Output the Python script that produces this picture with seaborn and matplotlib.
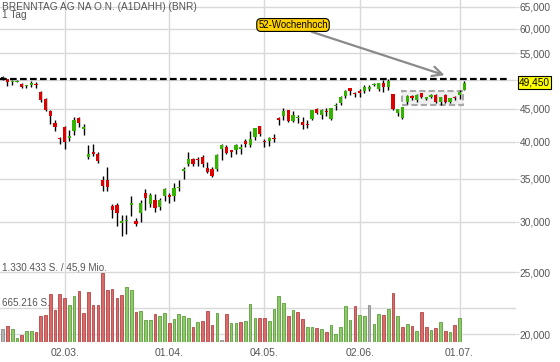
import matplotlib
matplotlib.use("Agg")
import matplotlib.pyplot as plt
import matplotlib.ticker as mticker
from matplotlib.patches import Rectangle
import seaborn as sns

sns.set_style("white")
plt.rcParams['font.family'] = ['Liberation Sans', 'DejaVu Sans']

# daily candles, 12.02. - 02.07.
opens = [50.3, 50.1, 49.5, 49.6, 49.3, 48.9, 49.0, 49.2, 47.9, 46.6,
         44.7, 42.7, 40.5, 42.2, 40.5, 41.5, 43.5, 41.8, 37.9, 38.6,
         38.3, 34.9, 34.9, 31.7, 31.8, 29.9, 30.1, 31.9, 30.1, 30.9,
         33.3, 32.0, 32.4, 31.6, 32.9, 33.0, 32.9, 33.8, 36.0, 36.9,
         37.6, 37.5, 37.9, 36.4, 36.2, 36.2, 38.9, 39.2, 38.8, 38.8,
         39.0, 40.1, 39.5, 40.7, 42.3, 40.1, 40.1, 40.5, 43.4, 43.9,
         44.8, 43.1, 43.6, 43.0, 42.6, 43.4, 45.0, 44.1, 44.6, 43.4,
         45.5, 46.0, 47.2, 48.5, 47.6, 48.0, 48.0, 48.3, 49.0, 48.3,
         49.4, 48.7, 47.5, 44.3, 43.6, 46.2, 47.1, 46.5, 47.6, 46.7,
         47.0, 47.3, 46.1, 47.3, 46.1, 46.95, 47.3, 48.2]
highs = [50.6, 50.2, 49.9, 49.9, 49.4, 49.1, 49.7, 49.6, 48.0, 46.8,
         44.8, 43.2, 40.7, 42.3, 41.7, 43.7, 43.7, 42.6, 39.5, 39.7,
         38.6, 35.4, 36.5, 32.0, 32.1, 30.7, 30.7, 32.9, 30.4, 32.4,
         33.7, 33.2, 33.1, 32.6, 33.9, 33.3, 34.5, 34.9, 36.5, 38.5,
         37.7, 37.9, 38.1, 37.2, 36.5, 38.2, 39.6, 39.5, 38.8, 39.7,
         39.7, 40.4, 41.5, 42.0, 42.3, 40.4, 40.7, 41.1, 43.7, 45.1,
         44.8, 44.6, 44.0, 43.7, 43.3, 44.9, 45.1, 45.0, 45.1, 45.2,
         45.9, 47.2, 48.2, 48.5, 47.9, 48.4, 49.0, 49.1, 49.4, 49.4,
         49.9, 50.06, 47.5, 45.0, 45.3, 47.3, 47.3, 47.4, 47.7, 47.0,
         47.5, 47.4, 46.9, 47.5, 46.8, 47.1, 48.2, 49.7]
lows = [50.0, 48.9, 49.1, 49.5, 48.6, 48.5, 48.7, 48.5, 46.1, 44.7,
        42.6, 41.5, 39.6, 39.0, 40.1, 41.0, 42.2, 41.0, 37.6, 38.0,
        37.1, 33.5, 33.5, 30.4, 29.5, 28.5, 28.7, 30.6, 29.5, 30.0,
        31.3, 31.6, 31.1, 31.3, 32.3, 32.1, 32.3, 33.5, 35.0, 36.7,
        36.6, 36.7, 36.5, 35.7, 35.2, 36.0, 37.4, 38.2, 37.9, 38.2,
        38.3, 39.2, 39.2, 40.3, 40.8, 39.2, 39.4, 40.0, 42.4, 43.3,
        43.0, 42.9, 42.8, 41.8, 42.0, 43.3, 44.2, 43.4, 43.9, 43.3,
        44.9, 45.7, 46.8, 47.3, 47.0, 47.0, 47.6, 48.0, 48.8, 48.0,
        47.9, 48.1, 44.9, 43.9, 43.4, 45.8, 46.5, 46.2, 46.8, 46.4,
        46.8, 46.0, 45.7, 46.0, 46.0, 46.5, 46.7, 48.1]
closes = [50.3, 49.5, 49.8, 49.8, 48.7, 49.0, 49.4, 49.1, 46.5, 44.9,
          43.8, 42.2, 40.4, 40.0, 40.8, 43.2, 42.7, 42.2, 38.2, 38.2,
          37.3, 34.1, 34.0, 31.3, 30.9, 30.0, 30.2, 32.1, 29.7, 32.1,
          32.7, 33.0, 31.5, 32.4, 33.7, 32.8, 33.9, 33.9, 36.2, 37.6,
          36.9, 37.4, 36.9, 35.9, 35.3, 38.1, 39.5, 38.4, 38.5, 39.5,
          39.3, 39.6, 40.4, 42.0, 41.1, 39.9, 40.5, 40.4, 43.3, 44.6,
          43.1, 44.0, 43.7, 42.4, 42.5, 44.8, 44.4, 44.8, 44.5, 45.1,
          45.6, 47.0, 48.0, 48.0, 47.4, 47.6, 48.7, 48.7, 49.1, 49.4,
          48.7, 49.7, 45.0, 45.0, 45.3, 47.2, 46.8, 47.3, 47.0, 46.8,
          47.3, 46.1, 46.9, 46.2, 46.8, 46.85, 47.9, 49.45]

# volume in shares, direction vs. previous close (R down, G up, n unchanged)
volume = [259000, 305000, 259000, 84000, 143000, 207000, 214000, 201000, 499000, 519000,
          921000, 616000, 934000, 843000, 726000, 882000, 985000, 571000, 960000, 726000,
          726000, 1330433, 998000, 1024000, 856000, 908000, 1057000, 1005000, 577000, 609000,
          428000, 421000, 538000, 499000, 564000, 363000, 454000, 538000, 499000, 467000,
          298000, 395000, 402000, 596000, 324000, 571000, 32000, 551000, 363000, 363000,
          382000, 415000, 733000, 467000, 473000, 460000, 402000, 648000, 888000, 746000,
          499000, 616000, 583000, 441000, 285000, 285000, 266000, 259000, 201000, 331000,
          149000, 285000, 694000, 434000, 694000, 519000, 506000, 726000, 350000, 545000,
          532000, 635000, 953000, 499000, 298000, 357000, 305000, 207000, 590000, 298000,
          227000, 279000, 389000, 220000, 201000, 337000, 473000]
vol_dir = ("nRGGRGGRRR" "RRRRGGRRRR" "RRRRRRGGRG" "GGRGGRGGGG" "RGRRRGnRGG"
           "RGGGRRGGGG" "RGRRGGRGRG" "GGGGRGGnGG" "RGRGRGRGRR" "GRGRGRG")

date_pos = [13, 35, 55, 75, 96]
date_labels = ["02.03.", "01.04.", "04.05.", "02.06.", "01.07."]
price_ticks = [20, 25, 30, 35, 40, 45, 50, 55, 60, 65]
high_52 = 50.06
last_price = 49.45
vol_max = 1330433
vol_half = 665216
box_lo, box_hi = 45.64, 47.99
box_from, box_to = 83.9, 96.7

grid_c = '#d9d9d9'
txt_c = '#555555'

fig = plt.figure(figsize=(5.6, 3.62), dpi=100)
ax = fig.add_axes([0, 20 / 362, 516 / 560, 342 / 362])
axv = ax.twinx()

# price axis
ax.set_yscale('log')
ax.set_ylim(19.45, 66.59)
ax.set_xlim(-0.567, 107.86)
ax.set_yticks(price_ticks)
ax.yaxis.set_minor_locator(mticker.NullLocator())
ax.yaxis.set_major_formatter(mticker.FuncFormatter(lambda v, p: f"{v:.3f}".replace('.', ',')))
ax.yaxis.tick_right()
ax.set_xticks(date_pos)
ax.set_xticklabels(date_labels)
ax.grid(True, color=grid_c, lw=1)
ax.set_axisbelow(True)
ax.tick_params(axis='y', length=2, pad=0.8, color=grid_c, labelcolor=txt_c, labelsize=7.3)
ax.tick_params(axis='x', length=2.5, pad=2, color=grid_c, labelcolor=txt_c, labelsize=7.5)
for s in list(ax.spines.values()) + list(axv.spines.values()):
    s.set_visible(False)

# candles
xs = list(range(len(closes)))
cols = []
bottoms = []
heights = []
for o, c in zip(opens, closes):
    cols.append('#dd0000' if c < o else ('#33b300' if c > o else '#222222'))
    lo = min(o, c)
    bottoms.append(lo)
    heights.append(max(abs(c - o), 0.004 * lo))
ax.add_patch(Rectangle((box_from, box_lo), box_to - box_from, box_hi - box_lo,
                       facecolor='#efefef', edgecolor='#a8a8a8', lw=1.5,
                       ls=(0, (3, 1.5)), zorder=2))
ax.vlines(xs, lows, highs, colors='black', lw=1.0, zorder=3)
ax.bar(xs, heights, bottom=bottoms, width=0.68, color=cols, lw=0, zorder=4)

# 52 week high
ax.hlines(high_52, -0.6, 106, colors='black', linestyles=(0, (3, 1.5)), lw=1.6, zorder=5)
ax.annotate("", xy=(93.4, 50.65), xytext=(64.4, 59.56),
            arrowprops=dict(arrowstyle='->,head_length=0.7,head_width=0.35',
                            color='#8a8a8a', lw=1.6), zorder=6)
ax.text(61.0, 60.86, "52-Wochenhoch", ha='center', va='center', fontsize=6.9,
        color='black', zorder=7,
        bbox=dict(boxstyle='round,pad=0.15,rounding_size=0.45', fc='#ffd200', ec='black', lw=0.8))
ax.annotate(f"{last_price:.3f}".replace('.', ','), xy=(1.006, last_price),
            xycoords=('axes fraction', 'data'), ha='left', va='center',
            fontsize=7.3, color='black', annotation_clip=False,
            bbox=dict(boxstyle='square,pad=0.12', fc='#ffff00', ec='black', lw=0.8))

# volume
face = {'R': '#d96a6a', 'G': '#8ccb68', 'n': '#b3b3b3'}
edge = {'R': '#b44545', 'G': '#5c9c3c', 'n': '#8a8a8a'}
axv.set_ylim(0, vol_max * 342 / 68.7)
axv.axhline(vol_half, xmin=0, xmax=1, color=grid_c, lw=1, zorder=0)
axv.bar(range(len(volume)), volume, width=0.56,
        color=[face[d] for d in vol_dir], edgecolor=[edge[d] for d in vol_dir], lw=0.6)
axv.yaxis.set_visible(False)

fig.text(2 / 560, 1 - 1.5 / 362, "BRENNTAG AG NA O.N. (A1DAHH) (BNR)", ha='left', va='top',
         fontsize=7.3, color=txt_c)
fig.text(2 / 560, 1 - 10.5 / 362, "1 Tag", ha='left', va='top', fontsize=7.3, color=txt_c)
fig.text(2 / 560, 1 - 268 / 362, "1.330.433 S. / 45,9 Mio.", ha='left', va='center',
         fontsize=7.1, color=txt_c)
fig.text(2 / 560, 1 - 303 / 362, "665.216 S.", ha='left', va='center',
         fontsize=7.1, color=txt_c)

fig.savefig("out.png", dpi=100)
